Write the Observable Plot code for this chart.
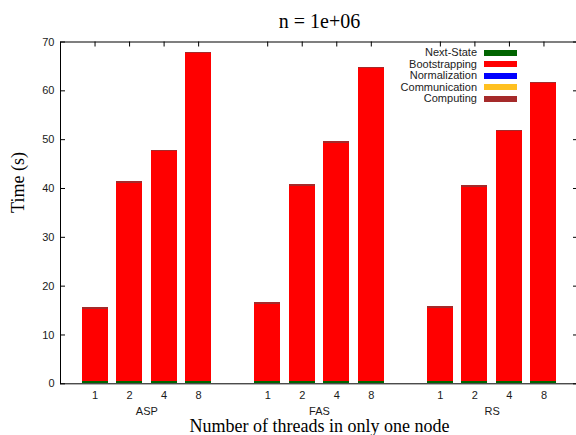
<!DOCTYPE html>
<html><head><meta charset="utf-8">
<script src="https://cdn.jsdelivr.net/npm/d3@7"></script>
<script src="https://cdn.jsdelivr.net/npm/@observablehq/plot@0.6"></script>
<style>
html,body{margin:0;padding:0;background:#fff;overflow:hidden;}
#chart{position:relative;width:576px;height:435px;overflow:hidden;}
#chart svg{position:absolute;left:0;top:0;}
.lg-text{position:absolute;font-family:"Liberation Sans",Arial,sans-serif;font-size:11px;color:#222;text-align:right;white-space:nowrap;line-height:12px;}
.lg-sw{position:absolute;width:33px;height:6px;}
</style></head><body><div id="chart"></div>
<script>
// ---- data ----
const groups = ["ASP", "FAS", "RS"];
const threads = ["1", "2", "4", "8"];
const components = ["Next-State", "Bootstrapping", "Normalization", "Communication", "Computing"];
const colors = ["#006400", "#ff0000", "#0000ff", "#ffc020", "#a52a2a"];
// values per bar, order: ASP 1,2,4,8 | FAS 1,2,4,8 | RS 1,2,4,8
const nextState     = [0.5, 0.5, 0.5, 0.5,  0.5, 0.5, 0.5, 0.5,  0.5, 0.5, 0.5, 0.5];
const bootstrapping = [14.8, 40.6, 47.1, 67.2,  15.8, 40.0, 48.8, 64.0,  15.0, 39.8, 51.1, 60.9];
const normalization = [0, 0, 0, 0,  0, 0, 0, 0,  0, 0, 0, 0];
const communication = [0, 0, 0, 0,  0, 0, 0, 0,  0, 0, 0, 0];
const computing     = [0.25, 0.25, 0.25, 0.25,  0.25, 0.25, 0.25, 0.25,  0.25, 0.25, 0.25, 0.25];
const yTicks = [0, 10, 20, 30, 40, 50, 60, 70];
const title = "n = 1e+06";
const xLabel = "Number of threads in only one node";
const yLabel = "Time (s)";

// ---- build table ----
const series = [nextState, bootstrapping, normalization, communication, computing];
const rows = [];
const slots = [];
const slotLabel = {};
const groupCenters = [];
groups.forEach((g, gi) => {
  threads.forEach((t, ti) => {
    const slot = gi * 5 + ti;
    slots.push(slot);
    slotLabel[slot] = t;
    const k = gi * threads.length + ti;
    components.forEach((c, ci) => {
      rows.push({slot, group: g, threads: t, component: c, value: series[ci][k]});
    });
  });
  groupCenters.push(gi * 5 + (threads.length - 1) / 2);
});

const W = 576, H = 435;
const mT = 41.5, mB = 51.7, mL = 60, mR = -2;
const innerW = W - mL - mR, innerH = H - mT - mB;
const serif = "Liberation Serif, Times New Roman, serif";

const plot = Plot.plot({
  width: W, height: H,
  marginTop: mT, marginBottom: mB, marginLeft: mL, marginRight: mR,
  style: {fontFamily: "Liberation Sans, Arial, sans-serif", fontSize: "11px", color: "#1a1a1a", background: "transparent", overflow: "visible"},
  x: {domain: [-1, 14], axis: null},
  y: {domain: [0, 70], axis: null},
  color: {domain: components, range: colors},
  marks: [
    Plot.rectY(rows, Plot.stackY({
      x1: d => d.slot - 0.5, x2: d => d.slot + 0.5,
      y: "value", fill: "component",
      insetLeft: 4.25, insetRight: 4.25,
      shapeRendering: "crispEdges"
    })),
    Plot.ruleX(slots, {x: d => d, insetBottom: innerH - 5, stroke: "#000", strokeWidth: 1}),
    Plot.ruleY(yTicks, {y: d => d, insetRight: innerW - 5, stroke: "#000"}),
    Plot.ruleY(yTicks, {y: d => d, insetLeft: innerW - 5, stroke: "#000"}),
    Plot.axisY(yTicks, {tickSize: 0, tickPadding: 6, label: null, tickFormat: d => String(d)}),
    Plot.axisX(slots, {tickSize: 0, tickPadding: 7, label: null, tickFormat: d => slotLabel[d]}),
    Plot.axisX(groupCenters, {tickSize: 0, tickPadding: 23, label: null, tickFormat: (d, i) => groups[i]}),
    Plot.frame({stroke: "#000", strokeWidth: 1}),
    Plot.text([title], {text: d => d, frameAnchor: "top", lineAnchor: "middle", dy: -20, fontFamily: serif, fontSize: 20, fill: "#000"}),
    Plot.text([xLabel], {text: d => d, frameAnchor: "bottom", lineAnchor: "middle", dy: 42, fontFamily: serif, fontSize: 18, fill: "#000"}),
    Plot.text([yLabel], {text: d => d, frameAnchor: "left", lineAnchor: "middle", dx: -42, rotate: -90, fontFamily: serif, fontSize: 18, fill: "#000"})
  ]
});
const chart = document.getElementById("chart");
chart.appendChild(plot);

// legend (inside the plot, top-right)
components.forEach((c, i) => {
  const cy = 52.7 + i * 11.45;
  const t = document.createElement("div");
  t.className = "lg-text";
  t.textContent = c;
  t.style.right = (W - 477) + "px";
  t.style.top = (cy - 6.5) + "px";
  chart.appendChild(t);
  const s = document.createElement("div");
  s.className = "lg-sw";
  s.style.left = "484px";
  s.style.top = (cy - 3) + "px";
  s.style.background = colors[i];
  chart.appendChild(s);
});
</script>
</body></html>
